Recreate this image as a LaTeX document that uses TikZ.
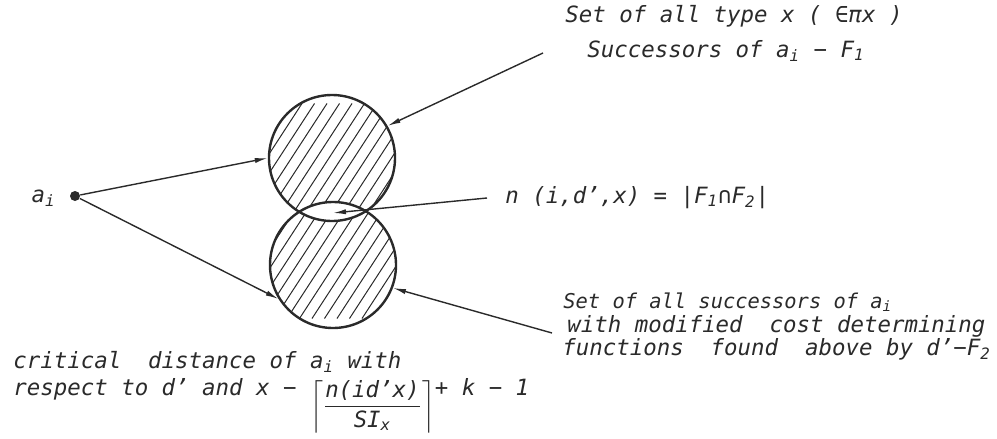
\documentclass[tikz,border=0pt]{standalone}
\usepackage{amsmath}
\usepackage{fontspec}
\setmainfont{DejaVu Sans Mono}[ItalicFont={DejaVu Sans Mono Oblique}]
\usetikzlibrary{arrows.meta,calc}
\definecolor{inkc}{HTML}{2A2A2A}
\tikzset{
  ar/.style={-{Latex[length=6.5pt,width=2.6pt]},line width=0.7pt,inkc},
  ring/.style={circle,draw=inkc,line width=1.2pt,minimum size=63pt,inner sep=0pt},
  lbl/.style={anchor=base west,inner sep=0pt,font=\fontsize{11.2}{13}\selectfont\itshape,text=inkc},
  hatch/.style={line width=0.5pt,inkc}
}
\newcommand{\lo}[1]{\textsubscript{#1}}

\begin{document}
\begin{tikzpicture}[x=0.5pt,y=-0.5pt]
\useasboundingbox (0,0) rectangle (997,439);
% the two sets
\node[ring] (F1) at (332,158) {};
\node[ring] (F2) at (333,265) {};
\begin{scope}[even odd rule]
  \clip (F1.center) circle (63) (F2.center) circle (63);
  \foreach \k in {-16,...,16}
    \draw[hatch] ($(332,211)+(12.5*\k,0)+(-70,107.5)$) -- ($(332,211)+(12.5*\k,0)+(70,-107.5)$);
\end{scope}
% element a_i
\node[circle,fill=inkc,minimum size=5pt,inner sep=0pt] (ai) at (75,196) {};
\node[lbl,anchor=base east] (ailbl) at (56,202) {a\lo{i}};
\draw[ar] (ai) -- (F1.west);
\draw[ar] (ai) -- (F2.212);
% labels
\node[lbl] (tA) at (565,23) {Set of all type x ( ∈πx )};
\node[lbl] (tB) at (587,57) {Successors of a\lo{i} − F\lo{1}};
\node[lbl] (tC) at (505,203) {n (i,d',x) = |F\lo{1}∩F\lo{2}|};
\node[lbl,font=\fontsize{10.2}{12}\selectfont\itshape] (tD) at (563,308) {Set of all successors of a\lo{i}};
\node[lbl] (tE) at (567,332) {with modified \ cost determining};
\node[lbl] (tF) at (562,355) {functions \ found \ above by d'−F\lo{2}};
\node[lbl] (tG) at (13,368) {critical \ distance of a\lo{i} with};
\node[lbl] (tH) at (13,395) {respect to d' and x − \raisebox{-8.5pt}{$\left\lceil\dfrac{\smash[b]{\text{n(id'x)}}}{\text{SI\lo{x}}}\right\rceil$}+ k − 1};
% pointers
\coordinate (pA) at (543,53);
\coordinate (pC) at (487,198);
\coordinate (lens) at (333,213);
\coordinate (pD) at (552,333);
\draw[ar] (pA) -- (F1.30);
\draw[ar] (pC) -- (lens);
\draw[ar] (pD) -- (F2.-21);
\end{tikzpicture}
\end{document}
